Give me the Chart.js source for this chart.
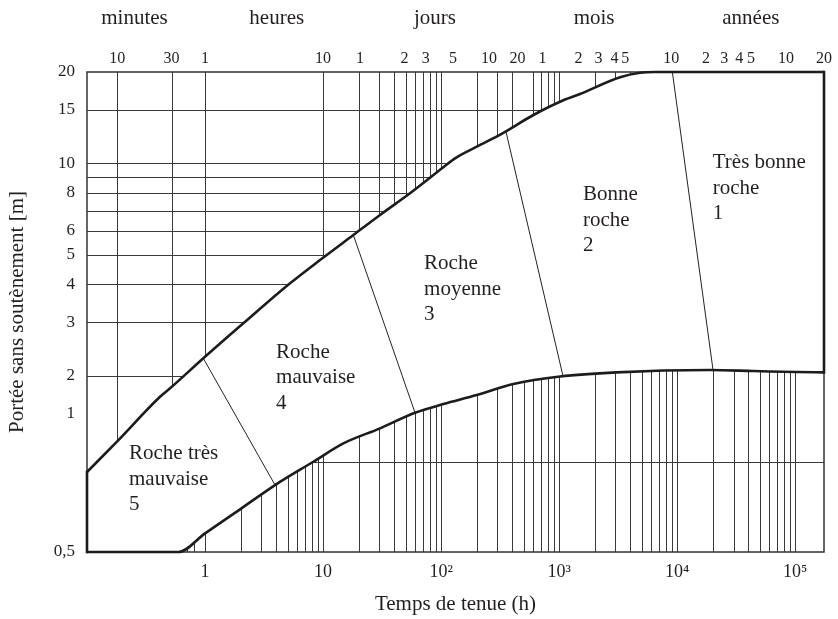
<!DOCTYPE html>
<html>
<head>
<meta charset="utf-8">
<script src="https://cdn.jsdelivr.net/npm/chart.js@4.4.1/dist/chart.umd.min.js"></script>
<style>
html,body{margin:0;padding:0;background:#fff;}
#wrap{width:838px;height:619px;background:#fff;}
</style>
</head>
<body>
<div id="wrap"><canvas id="c" width="838" height="619"></canvas></div>
<script>
// ---------- DATA (x = temps de tenue in hours, y = portée in metres) ----------
const timeMin = 0.1, timeMax = 175200;
const spanMin = 0.527, spanMax = 20;

// upper boundary of the stand-up zone
const upperCurveHours = [0.1, 0.1786, 0.4157, 0.5053, 0.9674, 2.11, 5.25, 9.424, 18.05, 30.38, 54.5, 104.4, 131.2, 200.4, 336.6, 604.4, 1017, 1503, 3280, 4844, 6492, 175200];
const upperCurveSpan  = [0.966, 1.214, 1.708, 1.821, 2.286, 2.979, 4.034, 4.813, 5.816, 6.770, 7.977, 9.713, 10.40, 11.36, 12.62, 14.44, 15.97, 16.93, 19.21, 19.88, 20, 20];

// lower boundary of the stand-up zone
const lowerCurveHours = [0.1, 0.594, 1, 1.98, 3.92, 8.27, 14.85, 30.4, 60.1, 104.4, 200.4, 409, 1017, 3074, 18980, 44160, 102970, 175200];
const lowerCurveSpan  = [0.527, 0.527, 0.607, 0.728, 0.875, 1.044, 1.20, 1.345, 1.514, 1.616, 1.730, 1.881, 1.991, 2.055, 2.091, 2.076, 2.06, 2.055];

// thin lines separating the rock classes (top end on upper curve, bottom end on lower curve)
const boundaryTopHours    = [0.967, 18.05, 354.8, 9096];
const boundaryTopSpan     = [2.286, 5.816, 12.70, 20];
const boundaryBottomHours = [3.92, 60.1, 1079, 20120];
const boundaryBottomSpan  = [0.875, 1.514, 1.994, 2.09];

// rock class captions
const rockClassText  = [["Roche très", "mauvaise", "5"], ["Roche", "mauvaise", "4"], ["Roche", "moyenne", "3"], ["Bonne", "roche", "2"], ["Très bonne", "roche", "1"]];
const rockClassHours = [0.227, 4.0, 71.7, 1593, 20005];
const rockClassSpan  = [1.066, 2.296, 4.485, 7.584, 9.643];

// axis ticks
const bottomTickHours  = [1, 10, 100, 1000, 10000, 100000];
const bottomTickLabels = ["1", "10", "10²", "10³", "10⁴", "10⁵"];
const topTickHours  = [0.18, 0.52, 1, 10, 20.5, 49, 74, 126, 255, 443, 724, 1460, 2150, 2944, 3630, 8900, 17540, 25060, 33560, 42170, 83400, 175200];
const topTickLabels = ["10", "30", "1", "10", "1", "2", "3", "5", "10", "20", "1", "2", "3", "4", "5", "10", "2", "3", "4", "5", "10", "20"];
const periodHours  = [0.2527, 4.05, 88.8, 1975, 42070];
const periodLabels = ["minutes", "heures", "jours", "mois", "années"];
const spanTickValues = [20, 15, 10, 8, 6, 5, 4, 3, 2, 1.51, 0.527];
const spanTickLabels = ["20", "15", "10", "8", "6", "5", "4", "3", "2", "1", "0,5"];

// grid lines (upper grid shown above the upper curve, lower grid below the lower curve)
const upperGridHours = [0.178, 0.522, 1, 10, 20, 30, 40, 50, 60, 70, 80, 90, 100, 200, 300, 400, 600, 700, 800, 900, 1000, 2000, 3000, 4000];
const upperGridSpan  = [15, 10, 9, 8, 7, 6, 5, 4, 3, 2];
const lowerGridHours = [0.7, 0.8, 1, 2, 3, 4, 5, 6, 7, 8, 9, 10, 20, 30, 40, 50, 60, 70, 80, 90, 100, 200, 300, 400, 500, 600, 700, 800, 900, 1000, 2000, 3000, 4000, 5000, 6000, 7000, 8000, 9000, 10000, 20000, 30000, 40000, 50000, 60000, 70000, 80000, 90000, 100000];
const lowerGridSpan  = [1.04];

// ---------- STYLE ----------
const FONT = '"Liberation Serif", "Times New Roman", serif';
const TEXT = '#231f20';
const GRID = '#3a3a3a';
const OUTLINE = '#1c1c1c';

Chart.defaults.font.family = FONT;
Chart.defaults.color = TEXT;

const pts = (xs, ys) => xs.map((v, i) => ({x: v, y: ys[i]}));
const lookup = (vals, labels) => v => { const i = vals.indexOf(v); return i >= 0 ? labels[i] : ''; };

const datasets = [
  {label: 'upper', data: pts(upperCurveHours, upperCurveSpan), borderColor: OUTLINE, borderWidth: 2.6, cubicInterpolationMode: 'monotone', pointRadius: 0, fill: false, clip: false, order: 1},
  {label: 'lower', data: pts(lowerCurveHours, lowerCurveSpan), borderColor: OUTLINE, borderWidth: 2.6, cubicInterpolationMode: 'monotone', pointRadius: 0, fill: false, clip: false, order: 1},
  {label: 'leftEdge', data: [{x: lowerCurveHours[0], y: lowerCurveSpan[0]}, {x: upperCurveHours[0], y: upperCurveSpan[0]}], borderColor: OUTLINE, borderWidth: 2.6, borderCapStyle: 'square', pointRadius: 0, fill: false, clip: false, order: 1},
  {label: 'rightEdge', data: [{x: upperCurveHours[upperCurveHours.length - 1], y: upperCurveSpan[upperCurveSpan.length - 1]}, {x: lowerCurveHours[lowerCurveHours.length - 1], y: lowerCurveSpan[lowerCurveSpan.length - 1]}], borderColor: OUTLINE, borderWidth: 2.6, borderCapStyle: 'square', pointRadius: 0, fill: false, clip: false, order: 1}
];
boundaryTopHours.forEach((h, i) => {
  datasets.push({label: 'boundary' + i, data: [{x: h, y: boundaryTopSpan[i]}, {x: boundaryBottomHours[i], y: boundaryBottomSpan[i]}], borderColor: '#222', borderWidth: 1, pointRadius: 0, fill: false, order: 2});
});

const regionGrid = {
  id: 'regionGrid',
  beforeDatasetsDraw(chart) {
    const {ctx, chartArea: a} = chart;
    const xs = chart.scales.x, ys = chart.scales.y;
    const up = chart.getDatasetMeta(0).dataset;
    const low = chart.getDatasetMeta(1).dataset;
    up.updateControlPoints(a, 'x');
    low.updateControlPoints(a, 'x');
    const crisp = v => Math.round(v) + 0.5;
    const drawSet = (hours, spans) => {
      ctx.beginPath();
      hours.forEach(h => { const X = crisp(xs.getPixelForValue(h)); ctx.moveTo(X, a.top); ctx.lineTo(X, a.bottom); });
      spans.forEach(s => { const Y = crisp(ys.getPixelForValue(s)); ctx.moveTo(a.left, Y); ctx.lineTo(a.right, Y); });
      ctx.stroke();
    };
    ctx.save();
    ctx.strokeStyle = GRID;
    ctx.lineWidth = 1;
    // region above the upper curve
    ctx.save();
    ctx.beginPath();
    up.path(ctx);
    ctx.lineTo(a.right, a.top);
    ctx.lineTo(a.left, a.top);
    ctx.closePath();
    ctx.clip();
    drawSet(upperGridHours, upperGridSpan);
    ctx.restore();
    // region below the lower curve
    ctx.save();
    ctx.beginPath();
    low.path(ctx);
    ctx.lineTo(a.right, a.bottom);
    ctx.lineTo(a.left, a.bottom);
    ctx.closePath();
    ctx.clip();
    drawSet(lowerGridHours, lowerGridSpan);
    ctx.restore();
    // frame
    ctx.lineWidth = 1.5;
    ctx.strokeStyle = '#333';
    ctx.strokeRect(a.left, a.top, a.right - a.left, a.bottom - a.top);
    ctx.restore();
  },
  afterDatasetsDraw(chart) {
    const {ctx} = chart;
    const xs = chart.scales.x, ys = chart.scales.y;
    ctx.save();
    ctx.font = '21px ' + FONT;
    ctx.fillStyle = TEXT;
    ctx.textAlign = 'left';
    ctx.textBaseline = 'alphabetic';
    rockClassText.forEach((lines, i) => {
      const X = xs.getPixelForValue(rockClassHours[i]);
      const Y = ys.getPixelForValue(rockClassSpan[i]);
      lines.forEach((t, j) => ctx.fillText(t, X, Y + j * 25.5));
    });
    ctx.restore();
  }
};

new Chart(document.getElementById('c'), {
  type: 'line',
  data: {datasets},
  plugins: [regionGrid],
  options: {
    responsive: false,
    animation: false,
    events: [],
    layout: {padding: {left: 0, right: 14, top: 0, bottom: 0}},
    plugins: {legend: {display: false}, tooltip: {enabled: false}, title: {display: false}},
    scales: {
      x: {
        type: 'logarithmic', position: 'bottom', min: timeMin, max: timeMax,
        afterBuildTicks: s => { s.ticks = bottomTickHours.map(v => ({value: v})); },
        afterFit: s => { s.height = 67; },
        grid: {display: false, drawTicks: false}, border: {display: false},
        ticks: {callback: lookup(bottomTickHours, bottomTickLabels), font: {size: 18}, padding: 9, autoSkip: false, maxRotation: 0, minRotation: 0},
        title: {display: true, text: 'Temps de tenue (h)', font: {size: 21}, padding: {top: 0, bottom: 2}}
      },
      xTop: {
        type: 'logarithmic', position: 'top', weight: 1, min: timeMin, max: timeMax,
        afterBuildTicks: s => { s.ticks = topTickHours.map(v => ({value: v})); },
        afterFit: s => { s.height = 37; },
        grid: {display: false, drawTicks: false}, border: {display: false},
        ticks: {callback: lookup(topTickHours, topTickLabels), font: {size: 16}, padding: 4, autoSkip: false, maxRotation: 0, minRotation: 0}
      },
      xHead: {
        type: 'logarithmic', position: 'top', weight: 10, min: timeMin, max: timeMax,
        afterBuildTicks: s => { s.ticks = periodHours.map(v => ({value: v})); },
        afterFit: s => { s.height = 35; },
        grid: {display: false, drawTicks: false}, border: {display: false},
        ticks: {callback: lookup(periodHours, periodLabels), font: {size: 21}, padding: 4, autoSkip: false, maxRotation: 0, minRotation: 0}
      },
      y: {
        type: 'logarithmic', position: 'left', min: spanMin, max: spanMax,
        afterBuildTicks: s => { s.ticks = spanTickValues.map(v => ({value: v})); },
        afterFit: s => { s.width = 87; },
        grid: {display: false, drawTicks: false}, border: {display: false},
        ticks: {callback: lookup(spanTickValues, spanTickLabels), font: {size: 17}, padding: 12, autoSkip: false},
        title: {display: true, text: 'Portée sans soutènement [m]', font: {size: 21}, padding: {top: 5, bottom: 0}}
      }
    }
  }
});
</script>
</body>
</html>
